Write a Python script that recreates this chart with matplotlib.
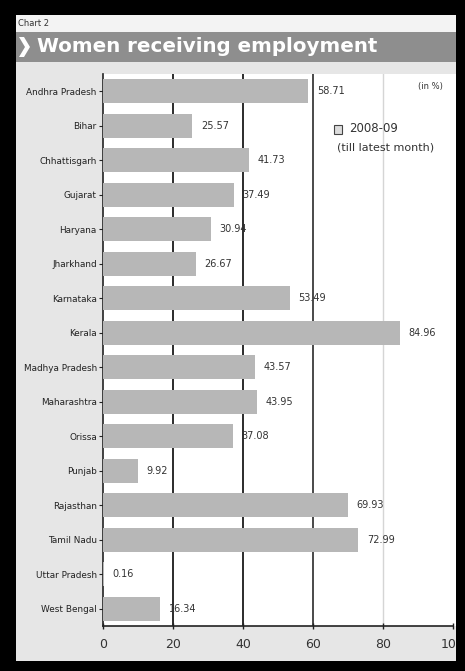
import matplotlib
matplotlib.use("Agg")
import matplotlib.pyplot as plt
from matplotlib.patches import Rectangle, Polygon

states = ["Andhra Pradesh", "Bihar", "Chhattisgarh", "Gujarat", "Haryana",
          "Jharkhand", "Karnataka", "Kerala", "Madhya Pradesh", "Maharashtra",
          "Orissa", "Punjab", "Rajasthan", "Tamil Nadu", "Uttar Pradesh",
          "West Bengal"]
values = [58.71, 25.57, 41.73, 37.49, 30.94, 26.67, 53.49, 84.96, 43.57,
          43.95, 37.08, 9.92, 69.93, 72.99, 0.16, 16.34]
value_labels = ["58.71", "25.57", "41.73", "37.49", "30.94", "26.67", "53.49",
                "84.96", "43.57", "43.95", "37.08", "9.92", "69.93", "72.99",
                "0.16", "16.34"]
xticks = [0, 20, 40, 60, 80, 100]
title = "Women receiving employment"
chart_no = "Chart 2"
legend_label = "2008-09"
legend_sub = "(till latest month)"
unit = "(in %)"

W, H = 465, 671
fig = plt.figure(figsize=(W / 100, H / 100), dpi=100, facecolor="black")

def fx(px):
    return px / W

def fy(py):
    return 1 - py / H

def frect(x0, y0, x1, y1, **kw):
    fig.patches.append(Rectangle((fx(x0), fy(y1)), fx(x1) - fx(x0), fy(y0) - fy(y1),
                                 transform=fig.transFigure, **kw))

# panel backgrounds
frect(16, 15, 457, 661, facecolor="#e6e6e6", edgecolor="none", zorder=-6)
frect(16, 15, 457, 32, facecolor="#f3f3f3", edgecolor="none", zorder=-5)
frect(103, 74, 457, 626, facecolor="white", edgecolor="none", zorder=-5)
# title banner
frect(16, 32, 457, 62, facecolor="#8e8e8e", edgecolor="none", zorder=-4)
fig.patches.append(Polygon([(fx(19), fy(37)), (fx(24), fy(37)), (fx(30), fy(47)),
                            (fx(24), fy(57)), (fx(19), fy(57)), (fx(25), fy(47))],
                           closed=True, transform=fig.transFigure,
                           facecolor="white", edgecolor="none", zorder=-3))
fig.text(fx(37), fy(47), title, color="white", fontsize=14.3, fontweight="bold",
         ha="left", va="center")
fig.text(fx(18), fy(23), chart_no, color="#333333", fontsize=6, ha="left", va="center")

ax = fig.add_axes([fx(103), fy(626), fx(453) - fx(103), fy(74) - fy(626)])
ax.set_facecolor("white")
ypos = list(range(len(states)))
ax.barh(ypos, values, height=0.7, color="#b7b7b7", zorder=3)
ax.set_ylim(len(states) - 0.5, -0.5)
ax.set_xlim(0, 100)

grid_colors = {20: "#1a1a1a", 40: "#1a1a1a", 60: "#3a3a3a", 80: "#d5d5d5"}
for xv, c in grid_colors.items():
    ax.axvline(xv, color=c, lw=1.3 if xv < 80 else 1.0, zorder=1)

for y, v, lab in zip(ypos, values, value_labels):
    ax.annotate(lab, (v, y), xytext=(6, 0), textcoords="offset points",
                ha="left", va="center", fontsize=7, color="#333333")

ax.set_yticks(ypos)
ax.set_yticklabels(states, fontsize=6.4, color="#222222")
ax.set_xticks(xticks)
ax.set_xticklabels([str(t) for t in xticks], fontsize=9, color="#333333")
ax.tick_params(axis="y", length=3, width=0.8, pad=1.5, color="#222222")
ax.tick_params(axis="x", length=4, direction="inout", width=1.0, pad=7, color="#222222")
for s in ["top", "right"]:
    ax.spines[s].set_visible(False)
for s in ["left", "bottom"]:
    ax.spines[s].set_color("#222222")
    ax.spines[s].set_linewidth(1.2)

# legend and unit
fig.text(fx(443), fy(87), unit, fontsize=6, color="#333333", ha="right", va="center")
frect(334, 125, 342, 134, facecolor="#dcdcdc", edgecolor="#444444", lw=0.8, zorder=5)
fig.text(fx(349), fy(129), legend_label, fontsize=8.5, color="#333333",
         ha="left", va="center")
fig.text(fx(386), fy(148), legend_sub, fontsize=8, color="#333333",
         ha="center", va="center")

# black frame over everything
for (x0, y0, x1, y1) in [(0, 0, W, 15), (0, 661, W, H), (0, 0, 16, H), (456, 0, W, H)]:
    frect(x0, y0, x1, y1, facecolor="black", edgecolor="none", zorder=20)

fig.savefig("out.png", dpi=100, facecolor="black")
